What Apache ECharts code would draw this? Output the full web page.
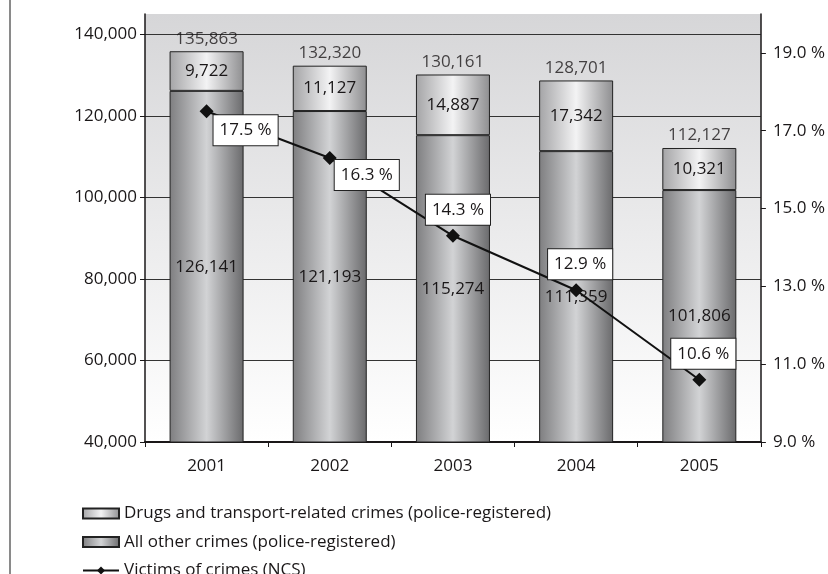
<!DOCTYPE html>
<html>
<head>
<meta charset="utf-8">
<script src="https://cdn.jsdelivr.net/npm/echarts@6/dist/echarts.min.js"></script>
<style>
  html, body { margin: 0; padding: 0; background: #ffffff; }
  #chart { width: 828px; height: 574px; }
</style>
</head>
<body>
<div id="chart"></div>
<script>
// Crime statistics 2001–2005
const years = ['2001', '2002', '2003', '2004', '2005'];
const drugsCrimes = [9722, 11127, 14887, 17342, 10321];
const otherCrimes = [126141, 121193, 115274, 111359, 101806];
const victimsPct = [17.5, 16.3, 14.3, 12.9, 10.6];
const countTicks = [40000, 60000, 80000, 100000, 120000, 140000];
const pctTicks = [9, 11, 13, 15, 17, 19];
const seriesNames = [
  'Drugs and transport-related crimes (police-registered)',
  'All other crimes (police-registered)',
  'Victims of crimes (NCS)'
];

const totals = otherCrimes.map((v, i) => v + drugsCrimes[i]);

// where each percentage box sits relative to its marker
const pctLabelOffsets = [[39, 19], [37, 17], [5, -26], [4, -26], [4, -26]];

const FONT = "'Open Sans', 'Noto Sans', sans-serif";
const FS = 17;
const INK = '#1a1718';
const fmtInt = v => Number(v).toLocaleString('en-US');
const fmtPct = v => Number(v).toFixed(1) + ' %';

const barGradient = (edgeL, mid, edgeR) => ({
  type: 'linear', x: 0, y: 0, x2: 1, y2: 0,
  colorStops: [
    { offset: 0, color: edgeL },
    { offset: 0.5, color: mid },
    { offset: 1, color: edgeR }
  ]
});

const chart = echarts.init(document.getElementById('chart'), null, { renderer: 'canvas' });

chart.setOption({
  animation: false,
  textStyle: { fontFamily: FONT, color: INK },
  graphic: [{
    type: 'line',
    shape: { x1: 10, y1: 0, x2: 10, y2: 574 },
    style: { stroke: '#8a8a8a', lineWidth: 2 }
  }],
  grid: {
    left: 145, right: 67, top: 14, bottom: 132,
    show: true,
    borderWidth: 0,
    backgroundColor: {
      type: 'linear', x: 0, y: 0, x2: 0, y2: 1,
      colorStops: [
        { offset: 0, color: '#d6d6d8' },
        { offset: 1, color: '#ffffff' }
      ]
    }
  },
  legend: {
    orient: 'vertical',
    left: 82,
    top: 505,
    height: 120,
    padding: 0,
    itemWidth: 36,
    itemHeight: 10,
    itemGap: 11.5,
    lineStyle: { width: 2 },
    data: [
      { name: seriesNames[0], icon: 'rect' },
      { name: seriesNames[1], icon: 'rect' },
      { name: seriesNames[2] }
    ],
    textStyle: { fontFamily: FONT, fontSize: FS, color: INK }
  },
  xAxis: {
    type: 'category',
    data: years,
    boundaryGap: true,
    axisLine: { lineStyle: { color: INK, width: 2 } },
    axisTick: { show: true, alignWithLabel: false, length: 5, lineStyle: { color: INK, width: 1 } },
    axisLabel: { fontFamily: FONT, fontSize: FS, color: INK, margin: 16 }
  },
  yAxis: [
    {
      type: 'value',
      min: 40000,
      max: 145000,
      interval: 20000,
      axisLine: { show: true, lineStyle: { color: INK, width: 1.5 } },
      axisTick: { show: true, length: 5, customValues: countTicks, lineStyle: { color: INK } },
      axisLabel: {
        customValues: countTicks,
        fontFamily: FONT, fontSize: FS, color: INK, margin: 8,
        formatter: v => fmtInt(v)
      },
      splitLine: { show: true, lineStyle: { color: '#333333', width: 1 } }
    },
    {
      type: 'value',
      min: 9,
      max: 20,
      position: 'right',
      axisLine: { show: true, lineStyle: { color: INK, width: 1.5 } },
      axisTick: { show: true, length: 5, customValues: pctTicks, lineStyle: { color: INK } },
      axisLabel: {
        customValues: pctTicks,
        fontFamily: FONT, fontSize: FS, color: INK, margin: 12,
        formatter: v => fmtPct(v)
      },
      splitLine: { show: false }
    }
  ],
  series: [
    {
      name: seriesNames[1],
      type: 'bar',
      stack: 'crimes',
      yAxisIndex: 0,
      barWidth: 74,
      data: otherCrimes,
      itemStyle: {
        color: barGradient('#7e7e80', '#d2d3d5', '#6a6a6c'),
        borderColor: '#222222',
        borderWidth: 1
      },
      label: {
        show: true, position: 'inside',
        fontFamily: FONT, fontSize: FS, color: INK,
        formatter: p => fmtInt(p.value)
      },
      z: 2
    },
    {
      name: seriesNames[0],
      type: 'bar',
      stack: 'crimes',
      yAxisIndex: 0,
      barWidth: 74,
      data: drugsCrimes,
      itemStyle: {
        color: barGradient('#a4a4a6', '#f3f3f4', '#8e8e90'),
        borderColor: '#222222',
        borderWidth: 1
      },
      label: {
        show: true, position: 'inside',
        fontFamily: FONT, fontSize: FS, color: INK,
        formatter: p => fmtInt(p.value)
      },
      z: 2
    },
    {
      name: 'totals',
      type: 'scatter',
      yAxisIndex: 0,
      data: totals,
      symbolSize: 0,
      silent: true,
      label: {
        show: true, position: 'top', distance: 4,
        fontFamily: FONT, fontSize: FS, color: INK,
        formatter: p => fmtInt(p.value)
      },
      z: 3
    },
    {
      name: seriesNames[2],
      type: 'line',
      yAxisIndex: 1,
      data: victimsPct.map((v, i) => ({
        value: v,
        label: { offset: pctLabelOffsets[i] }
      })),
      symbol: 'diamond',
      symbolSize: 14,
      showAllSymbol: true,
      lineStyle: { color: '#111111', width: 2 },
      itemStyle: { color: '#111111' },
      label: {
        show: true,
        position: 'inside',
        fontFamily: FONT, fontSize: FS, color: INK,
        backgroundColor: '#ffffff',
        borderColor: '#222222',
        borderWidth: 1,
        padding: [6, 6, 5, 6],
        lineHeight: 19,
        formatter: p => fmtPct(p.value)
      },
      z: 5
    }
  ]
});
</script>
</body>
</html>
